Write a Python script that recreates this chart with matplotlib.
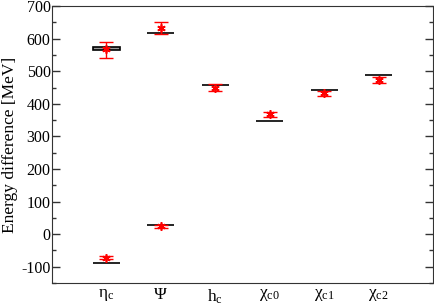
import numpy as np
import matplotlib
matplotlib.use("Agg")
import matplotlib.pyplot as plt
import matplotlib as mpl

mpl.rcParams['font.family'] = 'Liberation Serif'
mpl.rcParams['mathtext.fontset'] = 'custom'
mpl.rcParams['mathtext.rm'] = 'Liberation Serif'
mpl.rcParams['mathtext.it'] = 'Liberation Serif'
mpl.rcParams['axes.unicode_minus'] = False

labels = [r'$\eta_{\rm c}$', r'$\Psi$', r'$\rm h_c$', r'$\chi_{\rm c0}$', r'$\chi_{\rm c1}$', r'$\chi_{\rm c2}$']
xpos = [1, 2, 3, 4, 5, 6]

# experimental values (black)
exp_x = [1, 2, 2, 3, 4, 5, 6]
exp_val = [-87, 618, 28, 459, 347, 443, 488]
# eta_c band
band_x = [1]
band_lo = [565]
band_hi = [575]

# lattice values (red)
lat_x = [1, 1, 2, 2, 3, 4, 5, 6]
lat_val = [567, -72, 632, 24, 450, 368, 432, 473]
lat_lo = [540, -76, 613, 20, 440, 361, 424, 464]
lat_hi = [591, -68, 650, 28, 461, 375, 440, 482]

fig = plt.figure(figsize=(4.35, 3.05), dpi=100)
ax = fig.add_axes([0.1195, 0.072, 0.876, 0.908])

w = 0.25
ax.bar(band_x, np.array(band_hi) - np.array(band_lo), bottom=band_lo, width=2 * w,
       color='#999999', edgecolor='black', linewidth=1.2, zorder=2)
ax.hlines(exp_val, np.array(exp_x) - w, np.array(exp_x) + w, color='black', lw=1.2, zorder=2)

lat_val = np.array(lat_val)
yerr = [lat_val - np.array(lat_lo), np.array(lat_hi) - lat_val]
ax.errorbar(lat_x, lat_val, yerr=yerr, fmt='none', ecolor='red', elinewidth=1,
            capsize=5, capthick=1, zorder=3)
ax.plot(lat_x, lat_val, ls='none', marker=(6, 2, 0), color='red', ms=6, mew=1.2, zorder=4)

ax.set_xlim(0, 7)
ax.set_ylim(-150, 700)
ax.set_xticks(xpos)
ax.set_xticklabels(labels, fontsize=12.5)
ax.tick_params(axis='x', length=0, pad=3)
ax.set_yticks(np.arange(-100, 701, 100))
ax.set_yticks(np.arange(-150, 701, 50), minor=True)
ax.tick_params(axis='y', which='major', direction='in', length=6, right=True, labelsize=11.5,
               width=1, colors='#333333', labelcolor='black', pad=1)
ax.tick_params(axis='y', which='minor', direction='in', length=3, right=True, width=1, colors='#333333')
ax.set_ylabel('Energy difference [MeV]', fontsize=12.5)
ax.yaxis.set_label_coords(-0.09, 0.5)
for s in ax.spines.values():
    s.set_color('#333333')

plt.savefig('out.png', dpi=100)
